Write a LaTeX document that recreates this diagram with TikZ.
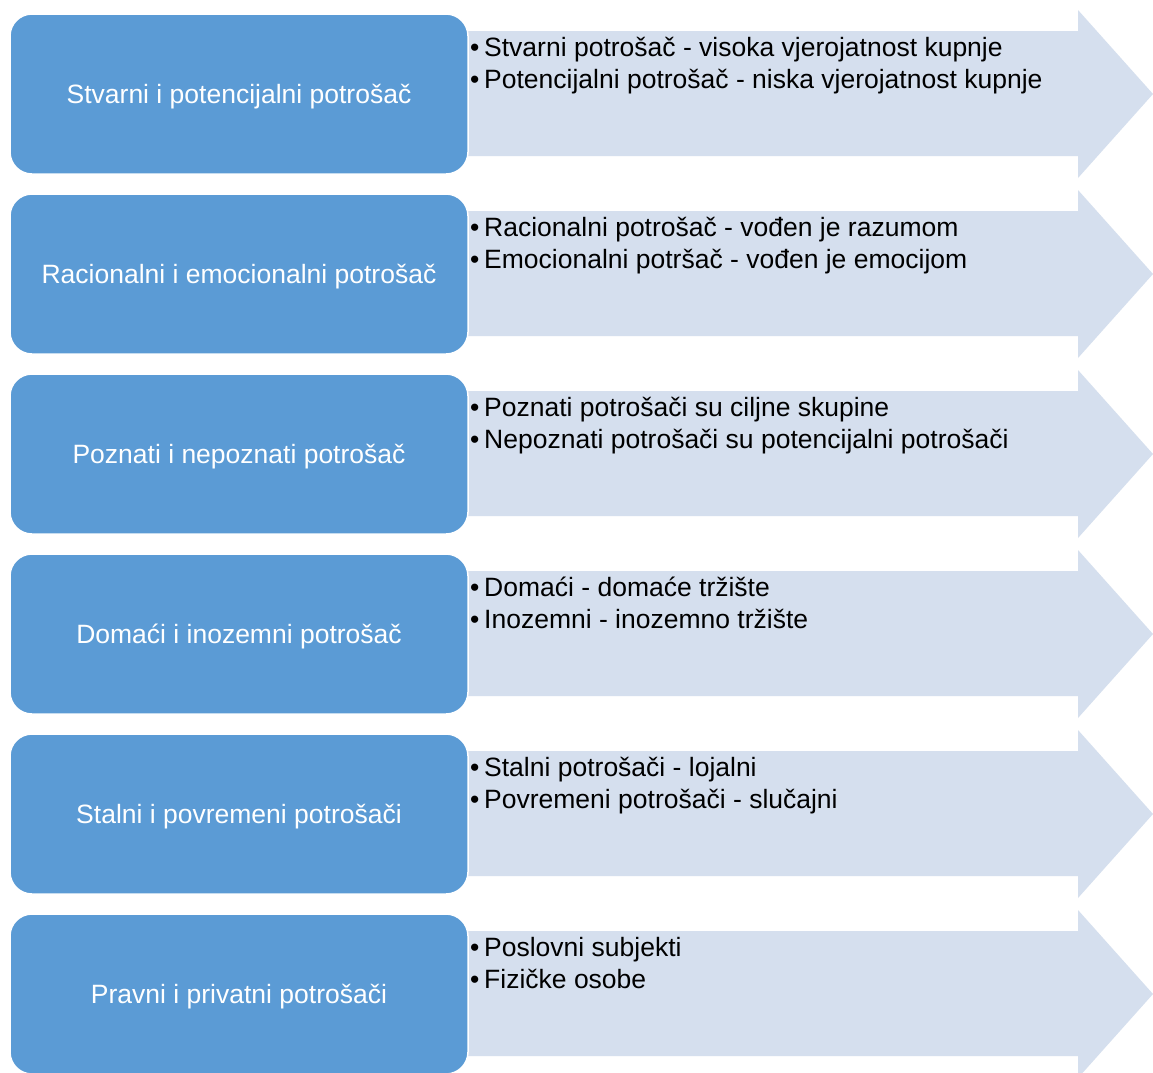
\documentclass[tikz,border=0pt]{standalone}
\usepackage{fontspec}
\setmainfont{Liberation Sans}
\definecolor{boxblue}{HTML}{5B9BD5}
\definecolor{arrowfill}{HTML}{D5DFEE}
\begin{document}
\begin{tikzpicture}[x=1pt,y=-1pt,
    catbox/.style={draw=white, line width=1.5pt, fill=boxblue, rounded corners=22pt,
      minimum width=458pt, minimum height=160pt, inner sep=0pt,
      text height=25pt, text depth=6pt,
      text=white, font=\fontsize{26.5}{32}\selectfont},
    itemtext/.style={anchor=base west, inner sep=0pt, text=black,
      font=\fontsize{26.5}{32}\selectfont}]
  \clip (0,0) rectangle (1153,1072);
  \fill[white] (0,0) rectangle (1153,1072);
  \foreach \i/\rowtitle/\itemA/\itemB in {
      0/Stvarni i potencijalni potrošač/Stvarni potrošač - visoka vjerojatnost kupnje/Potencijalni potrošač - niska vjerojatnost kupnje,
      1/Racionalni i emocionalni potrošač/Racionalni potrošač - vođen je razumom/Emocionalni potršač - vođen je emocijom,
      2/Poznati i nepoznati potrošač/Poznati potrošači su ciljne skupine/Nepoznati potrošači su potencijalni potrošači,
      3/Domaći i inozemni potrošač/Domaći - domaće tržište/Inozemni - inozemno tržište,
      4/Stalni i povremeni potrošači/Stalni potrošači - lojalni/Povremeni potrošači - slučajni,
      5/Pravni i privatni potrošači/Poslovni subjekti/Fizičke osobe} {
    % arrow behind the box
    \fill[arrowfill] (462,31+180*\i) -- (1078,31+180*\i) -- (1078,10+180*\i)
      -- (1153,94+180*\i) -- (1078,178+180*\i) -- (1078,156+180*\i)
      -- (462,156+180*\i) -- cycle;
    \node[catbox] (box\i) at (239,94+180*\i) {\rowtitle};
    \node[itemtext] (itema\i) at (470,56+180*\i) {\makebox[14pt][l]{•}\itemA};
    \node[itemtext] (itemb\i) at (470,88+180*\i) {\makebox[14pt][l]{•}\itemB};
  }
\end{tikzpicture}
\end{document}
